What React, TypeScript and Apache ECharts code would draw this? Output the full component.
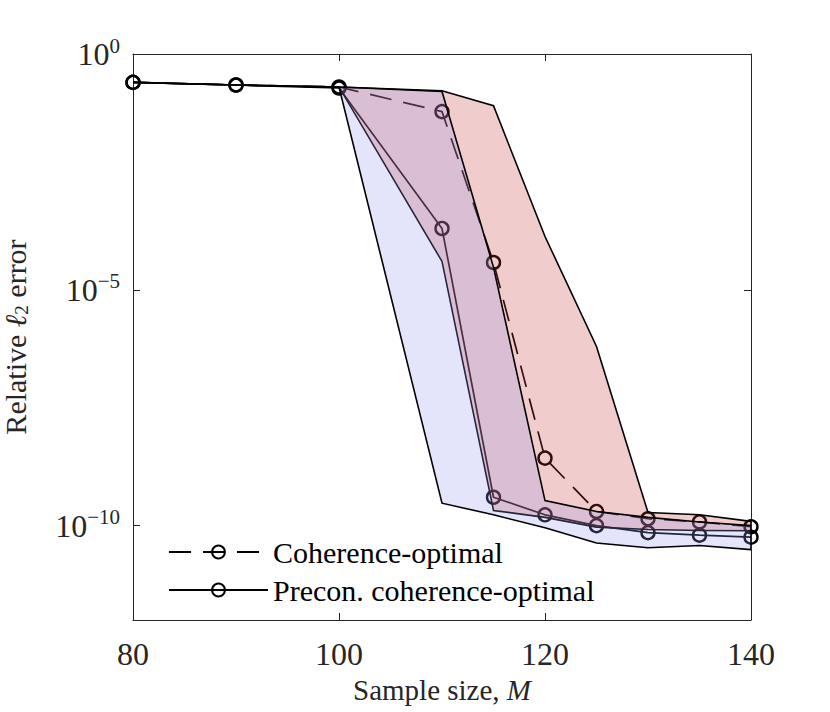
import React, { useEffect, useRef } from "react";
import * as echarts from "echarts";

// Sample sizes
const sampleSizes = [80, 90, 100, 110, 115, 120, 125, 130, 135, 140];

// Median relative errors
const coherenceOptimal = [0.25, 0.22, 0.2, 0.06, 3.8e-5, 2.7e-9, 2.0e-10, 1.4e-10, 1.2e-10, 9.5e-11];
const preconCoherenceOptimal = [0.25, 0.22, 0.19, 2.0e-4, 4.0e-10, 1.7e-10, 1.0e-10, 7.1e-11, 6.3e-11, 5.7e-11];

// Range bands (min / max)
const coherenceLower = [0.25, 0.22, 0.2, 4.0e-5, 2.1e-10, 1.5e-10, 9.3e-11, 8.3e-11, 7.9e-11, 7.8e-11];
const coherenceUpper = [0.25, 0.22, 0.2, 0.166, 0.08, 1.35e-4, 6.3e-7, 1.9e-10, 1.7e-10, 1.23e-10];
const preconLower = [0.25, 0.22, 0.2, 3.0e-10, 1.7e-10, 9.0e-11, 4.3e-11, 3.4e-11, 3.8e-11, 3.1e-11];
const preconUpper = [0.25, 0.22, 0.2, 0.16, 3.0e-5, 3.4e-10, 2.0e-10, 1.5e-10, 1.2e-10, 1.0e-10];

// Tick values
const xTicks = [80, 100, 120, 140];
const yTicks = [1e-10, 1e-5, 1];

const FONT = "'Liberation Serif', 'Times New Roman', serif";
const INK = "#262626";

function bandSeries(name: string, lo: number[], hi: number[], fill: string, z: number) {
  return {
    type: "custom",
    name,
    z,
    silent: true,
    clip: true,
    data: sampleSizes.map((m, i) => [m, lo[i], hi[i]]),
    encode: { x: 0, y: [1, 2] },
    renderItem: (params: any, api: any) => {
      if (params.dataIndex !== 0) return null;
      const pts: number[][] = [];
      for (let i = 0; i < sampleSizes.length; i++) pts.push(api.coord([sampleSizes[i], hi[i]]));
      for (let i = sampleSizes.length - 1; i >= 0; i--) pts.push(api.coord([sampleSizes[i], lo[i]]));
      return {
        type: "polygon",
        shape: { points: pts },
        style: { fill, stroke: "#000", lineWidth: 1.6, lineJoin: "miter" },
      };
    },
  };
}

function lineSeries(name: string, values: number[], dashed: boolean) {
  return {
    type: "line",
    name,
    z: 2,
    silent: true,
    data: sampleSizes.map((m, i) => [m, values[i]]),
    symbol: "circle",
    symbolSize: 13,
    showAllSymbol: true,
    itemStyle: { color: "transparent", borderColor: "#000", borderWidth: 2.4 },
    lineStyle: { color: "#000", width: 1.7, type: dashed ? [22, 12] : "solid" },
    emphasis: { disabled: true },
  };
}

export default function App() {
  const ref = useRef<HTMLDivElement>(null);
  useEffect(() => {
    document.body.style.margin = "0";
    if (!ref.current) return;
    const chart = echarts.init(ref.current, undefined, { renderer: "svg" });
    const supLabel = (v: number) => {
      const e = Math.round(Math.log10(v));
      const s = e === 0 ? "0" : "\u2212" + Math.abs(e);
      return `{b|10}{s|${s}}`;
    };
    const labelRich = {
      b: { fontSize: 32, fontFamily: FONT, color: INK, lineHeight: 38 },
      s: { fontSize: 21, fontFamily: FONT, color: INK, verticalAlign: "top", lineHeight: 21 },
    };
    const option: any = {
      animation: false,
      backgroundColor: "#fff",
      grid: { left: 133, right: 79, top: 54, bottom: 92, containLabel: false, outerBoundsMode: "none" },
      legend: {
        data: ["Coherence-optimal", "Precon. coherence-optimal"],
        orient: "vertical",
        left: 163,
        top: 532,
        itemWidth: 99,
        itemHeight: 16,
        itemGap: 8,
        selectedMode: false,
        textStyle: { fontSize: 30, fontFamily: FONT, color: "#000" },
      },
      xAxis: [
        {
          type: "value",
          min: 80,
          max: 140,
          interval: 20,
          position: "bottom",
          axisLine: { show: true, lineStyle: { color: INK, width: 1 } },
          axisTick: { show: true, inside: true, length: 7, lineStyle: { color: INK } },
          axisLabel: {
            fontSize: 32,
            fontFamily: FONT,
            color: INK,
            margin: 18,
            customValues: xTicks,
          },
          splitLine: { show: false },
          name: "{n|Sample size, }{i|M}",
          nameLocation: "middle",
          nameGap: 55,
          nameTextStyle: {
            rich: {
              n: { fontSize: 29, fontFamily: FONT, color: INK },
              i: { fontSize: 29, fontFamily: FONT, color: INK, fontStyle: "italic" },
            },
          },
        },
        {
          type: "value",
          min: 80,
          max: 140,
          interval: 20,
          position: "top",
          axisLine: { show: true, lineStyle: { color: INK, width: 1 } },
          axisTick: { show: true, inside: true, length: 7, lineStyle: { color: INK } },
          axisLabel: { show: false },
          splitLine: { show: false },
        },
      ],
      yAxis: [
        {
          type: "log",
          logBase: 10,
          min: 1e-12,
          max: 1,
          position: "left",
          axisLine: { show: true, lineStyle: { color: INK, width: 1 } },
          axisTick: { show: true, inside: true, length: 7, lineStyle: { color: INK }, customValues: yTicks },
          axisLabel: { margin: 13, formatter: supLabel, rich: labelRich, customValues: yTicks },
          minorTick: { show: false },
          splitLine: { show: false },
          name: "{n|Relative }{l|\u2113}{sub|2}{n| error}",
          nameLocation: "middle",
          nameRotate: 90,
          nameGap: 102,
          nameTextStyle: {
            rich: {
              n: { fontSize: 30, fontFamily: FONT, color: INK, lineHeight: 32 },
              l: { fontSize: 30, fontFamily: FONT, color: INK, fontStyle: "italic", lineHeight: 32 },
              sub: { fontSize: 19, fontFamily: FONT, color: INK, verticalAlign: "bottom", lineHeight: 19 },
            },
          },
        },
        {
          type: "log",
          logBase: 10,
          min: 1e-12,
          max: 1,
          position: "right",
          axisLine: { show: true, lineStyle: { color: INK, width: 1 } },
          axisTick: { show: true, inside: true, length: 7, lineStyle: { color: INK }, customValues: yTicks },
          axisLabel: { show: false },
          splitLine: { show: false },
        },
      ],
      series: [
        lineSeries("Coherence-optimal", coherenceOptimal, true),
        lineSeries("Precon. coherence-optimal", preconCoherenceOptimal, false),
        bandSeries("coh-band", coherenceLower, coherenceUpper, "rgba(196,52,52,0.25)", 3),
        bandSeries("precon-band", preconLower, preconUpper, "rgba(148,148,236,0.25)", 4),
      ],
    };
    chart.setOption(option);
    return () => chart.dispose();
  }, []);
  return <div ref={ref} style={{ width: 830, height: 712 }} />;
}
